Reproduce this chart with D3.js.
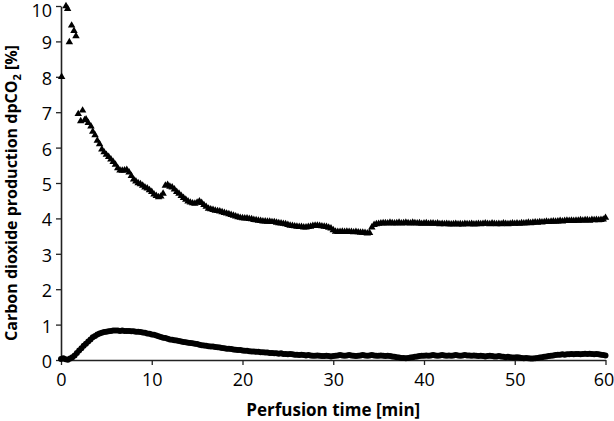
<!DOCTYPE html>
<html>
<head>
<meta charset="utf-8">
<script src="https://cdn.jsdelivr.net/npm/d3@7/dist/d3.min.js"></script>
<style>
  html, body { margin: 0; padding: 0; background: #fff; }
  svg { display: block; }
  .tick text { font-family: "Open Sans", sans-serif; font-size: 18px; fill: #000; }
</style>
</head>
<body>
<svg id="chart" width="614" height="421"></svg>
<script>
// ---- Data ----
const xTicks = [0, 10, 20, 30, 40, 50, 60];
const yTicks = [0, 1, 2, 3, 4, 5, 6, 7, 8, 9, 10];

// Upper series (triangles): early irregular readings
const triEarlyTime = [0.07, 0.55, 0.73, 0.92, 1.17, 1.43, 1.65, 1.9, 2.17, 2.38, 2.6, 2.76, 3.0, 3.3, 3.5];
const triEarlyValue = [8.0, 10.0, 9.92, 8.98, 9.45, 9.3, 9.15, 6.95, 6.75, 7.05, 6.78, 6.8, 6.7, 6.6, 6.45];

// Upper series: regular readings every 0.25 min starting at 3.75 min
const triStart = 3.75, triStep = 0.25;
const triValue = [
  6.35,
  6.2, 6.1, 5.95, 5.87,
  5.8, 5.74, 5.67, 5.6,
  5.52, 5.42, 5.36, 5.35,
  5.36, 5.37, 5.3, 5.2,
  5.1, 5.05, 5.0, 4.97,
  4.93, 4.88, 4.85, 4.8,
  4.75, 4.68, 4.64, 4.6,
  4.62, 4.7, 4.93, 4.95,
  4.9, 4.88, 4.82, 4.75,
  4.7, 4.64, 4.58, 4.53,
  4.48, 4.45, 4.43, 4.42,
  4.45, 4.48, 4.44, 4.38,
  4.33, 4.28, 4.26, 4.24,
  4.22, 4.21, 4.2, 4.18,
  4.16, 4.14, 4.12, 4.1,
  4.08, 4.06, 4.04, 4.02,
  4.01, 4.0, 4.0, 3.99,
  3.98, 3.96, 3.95, 3.94,
  3.93, 3.92, 3.92, 3.91,
  3.91, 3.9, 3.9, 3.88,
  3.87, 3.86, 3.85, 3.84,
  3.82, 3.8, 3.79, 3.78,
  3.77, 3.76, 3.76, 3.75,
  3.75, 3.76, 3.77, 3.79,
  3.8, 3.8, 3.79, 3.78,
  3.77, 3.76, 3.74, 3.72,
  3.67, 3.63, 3.62, 3.62,
  3.63, 3.62, 3.63, 3.62,
  3.62, 3.61, 3.62, 3.61,
  3.6, 3.6, 3.59, 3.58,
  3.59, 3.75, 3.82, 3.84,
  3.85, 3.86, 3.87, 3.87,
  3.86, 3.88, 3.87, 3.86,
  3.87, 3.88, 3.86, 3.87,
  3.88, 3.87, 3.86, 3.88,
  3.87, 3.86, 3.87, 3.85,
  3.86, 3.87, 3.85, 3.86,
  3.86, 3.85, 3.86, 3.84,
  3.85, 3.84, 3.85, 3.84,
  3.83, 3.84, 3.85, 3.83,
  3.84, 3.83, 3.85, 3.84,
  3.84, 3.85, 3.83, 3.84,
  3.85, 3.84, 3.85, 3.86,
  3.85, 3.84, 3.86, 3.85,
  3.84, 3.85, 3.84, 3.86,
  3.85, 3.84, 3.85, 3.86,
  3.85, 3.86, 3.85, 3.87,
  3.86, 3.87, 3.88, 3.87,
  3.88, 3.89, 3.88, 3.9,
  3.89, 3.9, 3.91, 3.9,
  3.91, 3.92, 3.91, 3.92,
  3.93, 3.92, 3.93, 3.94,
  3.93, 3.94, 3.93, 3.94,
  3.94, 3.95, 3.94, 3.95,
  3.95, 3.94, 3.96, 3.95,
  3.96, 3.95, 3.96, 3.97,
  4.02
];

// Lower series (circles): readings every 0.25 min from 0 min
const cirStart = 0, cirStep = 0.25;
const cirValue = [
  0.03, 0.05, 0.02, 0.01,
  0.04, 0.08, 0.13, 0.2,
  0.27, 0.33, 0.4, 0.46,
  0.52, 0.58, 0.64, 0.68,
  0.72, 0.75, 0.77, 0.79,
  0.8, 0.81, 0.82, 0.83,
  0.83, 0.83, 0.82, 0.83,
  0.82, 0.82, 0.82, 0.81,
  0.81, 0.8, 0.8, 0.79,
  0.78, 0.77, 0.75, 0.74,
  0.72, 0.71, 0.69, 0.67,
  0.65, 0.63, 0.62, 0.6,
  0.58, 0.57, 0.56, 0.55,
  0.54, 0.52, 0.51, 0.5,
  0.49, 0.48, 0.47, 0.46,
  0.45, 0.43, 0.42, 0.41,
  0.4, 0.39, 0.38, 0.38,
  0.37, 0.36, 0.35, 0.34,
  0.33, 0.32, 0.32, 0.31,
  0.3, 0.29, 0.28, 0.28,
  0.27, 0.26, 0.26, 0.25,
  0.24, 0.24, 0.23, 0.23,
  0.22, 0.22, 0.21, 0.21,
  0.2, 0.2, 0.19, 0.19,
  0.18, 0.19, 0.17, 0.17,
  0.16, 0.17, 0.16, 0.15,
  0.15, 0.14, 0.15, 0.14,
  0.13, 0.14, 0.13, 0.12,
  0.12, 0.13, 0.12, 0.11,
  0.11, 0.12, 0.11, 0.1,
  0.11, 0.12, 0.13, 0.14,
  0.13, 0.12, 0.13, 0.14,
  0.13, 0.12, 0.11, 0.12,
  0.13, 0.14, 0.13, 0.12,
  0.13, 0.14, 0.13, 0.12,
  0.12, 0.13, 0.12, 0.11,
  0.12, 0.11, 0.1, 0.09,
  0.08, 0.07, 0.06, 0.06,
  0.05, 0.06, 0.07, 0.08,
  0.09, 0.1, 0.11, 0.12,
  0.12, 0.13, 0.12, 0.13,
  0.14, 0.13, 0.12, 0.13,
  0.14, 0.13, 0.12, 0.13,
  0.12, 0.13, 0.14, 0.13,
  0.12, 0.13, 0.14, 0.13,
  0.13, 0.12, 0.13, 0.12,
  0.11, 0.12, 0.11, 0.1,
  0.11, 0.12, 0.11, 0.1,
  0.1, 0.11, 0.1, 0.09,
  0.08, 0.09, 0.08, 0.07,
  0.07, 0.08, 0.07, 0.06,
  0.05, 0.06, 0.05, 0.04,
  0.04, 0.05, 0.06, 0.07,
  0.08, 0.09, 0.1, 0.11,
  0.12, 0.13, 0.14, 0.15,
  0.15, 0.16, 0.15, 0.16,
  0.16, 0.17, 0.16, 0.17,
  0.17, 0.16, 0.17, 0.18,
  0.17, 0.18, 0.17, 0.16,
  0.17, 0.16, 0.15, 0.14,
  0.13
];

const xTitle = "Perfusion time [min]";

// ---- Build point tables ----
const triPoints = triEarlyTime.map((t, i) => ({ t, v: triEarlyValue[i] }))
  .concat(triValue.map((v, i) => ({ t: triStart + i * triStep, v })));
const cirPoints = cirValue.map((v, i) => ({ t: cirStart + i * cirStep, v }));

// ---- Chart ----
const svg = d3.select("#chart");
const x = d3.scaleLinear().domain([0, 60]).range([61, 605.5]);
const y = d3.scaleLinear().domain([0, 10]).range([360, 6]);

const axisColor = "#222";

const gx = svg.append("g").attr("transform", `translate(0,${y(0)})`)
  .call(d3.axisBottom(x).tickValues(xTicks).tickSize(5).tickPadding(8).tickSizeOuter(0));
const gy = svg.append("g").attr("transform", `translate(${x(0)},0)`)
  .call(d3.axisLeft(y).tickValues(yTicks).tickSize(5).tickPadding(4).tickSizeOuter(0));
[gx, gy].forEach(g => {
  g.select(".domain").attr("stroke", axisColor).attr("stroke-width", 1.6);
  g.selectAll(".tick line").attr("stroke", axisColor).attr("stroke-width", 1.3);
});
gy.selectAll(".tick text").attr("dy", d => d === 10 ? "0.56em" : "0.42em");
gx.selectAll(".tick text").filter(d => d === 60).attr("dx", -2);

// lower series
svg.append("g").selectAll("circle").data(cirPoints).join("circle")
  .attr("cx", d => x(d.t)).attr("cy", d => y(d.v)).attr("r", 3)
  .attr("fill", "#000");

// upper series
const tri = d3.symbol().type(d3.symbolTriangle).size(24);
svg.append("g").selectAll("path").data(triPoints).join("path")
  .attr("d", tri)
  .attr("transform", d => `translate(${x(d.t)},${y(d.v)})`)
  .attr("fill", "#000");

// titles
svg.append("text")
  .attr("x", (x(0) + x(60)) / 2).attr("y", 416)
  .attr("text-anchor", "middle")
  .attr("font-family", "'Open Sans', sans-serif").attr("font-weight", "bold").attr("font-size", 17)
  .text(xTitle);

const yt = svg.append("text")
  .attr("transform", "translate(17,193) rotate(-90)")
  .attr("text-anchor", "middle")
  .attr("font-family", "'Open Sans', sans-serif").attr("font-weight", "bold").attr("font-size", 16);
yt.append("tspan").text("Carbon dioxide production dpCO");
yt.append("tspan").attr("font-size", 11).attr("dy", 4).text("2");
yt.append("tspan").attr("dy", -4).text(" [%]");
</script>
</body>
</html>
